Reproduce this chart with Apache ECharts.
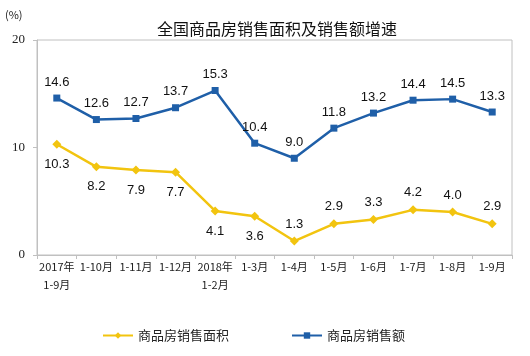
<!DOCTYPE html>
<html><head><meta charset="utf-8">
<script src="https://cdn.jsdelivr.net/npm/echarts@6/dist/echarts.min.js"></script>
<style>html,body{margin:0;padding:0;background:#fff}#c{width:530px;height:356px}</style>
</head><body><div id="c"></div>
<script>
const categories = ['2017年\n1-9月','1-10月','1-11月','1-12月','2018年\n1-2月','1-3月','1-4月','1-5月','1-6月','1-7月','1-8月','1-9月'];
const areaGrowth = [10.3, 8.2, 7.9, 7.7, 4.1, 3.6, 1.3, 2.9, 3.3, 4.2, 4.0, 2.9];
const salesGrowth = [14.6, 12.6, 12.7, 13.7, 15.3, 10.4, 9.0, 11.8, 13.2, 14.4, 14.5, 13.3];
const yTicks = [0, 10, 20];
const seriesNames = ['商品房销售面积', '商品房销售额'];

const yellow = '#f2c40f', blue = '#1f5fa8';
const chart = echarts.init(document.getElementById('c'), null, {renderer: 'canvas'});
const cjk = '"Noto Sans CJK SC", sans-serif';
const fmt = p => Number(p.value).toFixed(1);
const areaData = areaGrowth.map((v, i) => ({
  value: v,
  label: {position: i < 6 ? 'bottom' : 'top', distance: i < 6 ? 9 : 6}
}));
chart.setOption({
  animation: false,
  title: {
    text: '全国商品房销售面积及销售额增速', left: 272, top: 16, textAlign: 'center',
    textStyle: {fontFamily: cjk, fontSize: 16, fontWeight: 'normal', color: '#111'}
  },
  graphic: [{type: 'text', left: 5, top: 9, style: {text: '(%)', fontSize: 11, fontFamily: cjk, fill: '#222'}}],
  legend: {
    bottom: 9, left: 97, itemGap: 62, itemWidth: 30, itemHeight: 8,
    textStyle: {fontFamily: cjk, fontSize: 13, color: '#222'},
    data: seriesNames
  },
  grid: {left: 37, right: 18, top: 40, bottom: 101, show: true, borderColor: '#c0c0c0', borderWidth: 1},
  xAxis: {
    type: 'category', data: categories, boundaryGap: true,
    axisLine: {lineStyle: {color: '#c0c0c0'}},
    axisTick: {show: true, length: 4, lineStyle: {color: '#c0c0c0'}},
    axisLabel: {fontFamily: cjk, fontSize: 11, color: '#222', margin: 3, interval: 0, lineHeight: 18}
  },
  yAxis: {
    type: 'value', min: yTicks[0], max: yTicks[yTicks.length - 1], interval: 10,
    axisLine: {show: true, lineStyle: {color: '#c0c0c0'}},
    axisTick: {show: true, length: 4, lineStyle: {color: '#c0c0c0'}},
    splitLine: {show: false},
    axisLabel: {fontFamily: '"Liberation Serif", serif', fontSize: 13, color: '#222', margin: 12}
  },
  series: [
    {
      name: seriesNames[0], type: 'line', data: areaData, symbol: 'diamond', symbolSize: 9,
      itemStyle: {color: yellow}, lineStyle: {color: yellow, width: 2.5},
      label: {show: true, formatter: fmt, fontFamily: '"Liberation Sans", Arial', fontSize: 13, color: '#111'}
    },
    {
      name: seriesNames[1], type: 'line', data: salesGrowth, symbol: 'rect', symbolSize: 7,
      itemStyle: {color: blue}, lineStyle: {color: blue, width: 2.5},
      label: {show: true, formatter: fmt, position: 'top', distance: 6, fontFamily: '"Liberation Sans", Arial', fontSize: 13, color: '#111'}
    }
  ]
});
</script></body></html>
